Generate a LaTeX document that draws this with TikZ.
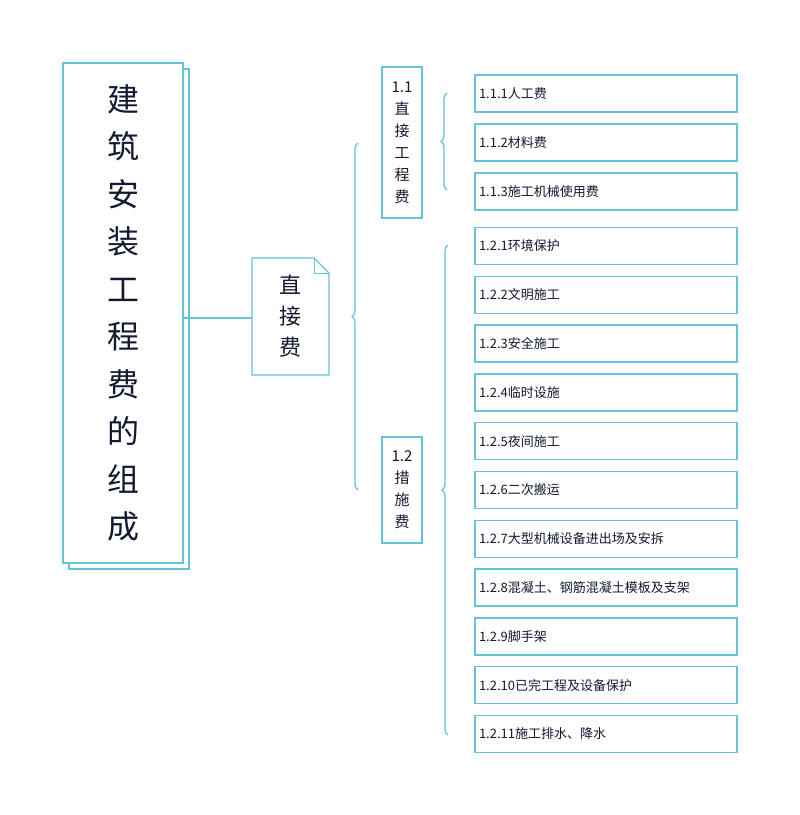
\documentclass[tikz,border=0pt]{standalone}
\usepackage{fontspec}
\setmainfont{Noto Sans CJK SC}
\usetikzlibrary{positioning,decorations.pathreplacing,shapes.misc}
\definecolor{lineblue}{RGB}{100,195,218}
\definecolor{inkblue}{RGB}{20,25,50}
\tikzset{
  box/.style={draw=lineblue, line width=1.3pt, fill=white, inner sep=0pt, text=inkblue},
  leaf/.style={box, minimum width=262pt, minimum height=37pt, text width=254pt, align=left, font=\fontsize{13}{15}\selectfont},
  sub/.style={box, minimum width=40pt, align=center, font=\fontsize{15}{22}\selectfont},
  bracebar/.style={draw=lineblue, line width=1.3pt, decorate, decoration={brace, amplitude=6pt}},
}
\begin{document}
\begin{tikzpicture}[x=1pt,y=-1pt]
\useasboundingbox (0,0) rectangle (800,815);
% root with shadow sheet
\draw[box] (69,69) rectangle (189,569);
\node[box, minimum width=120pt, minimum height=500pt, align=center,
  font=\fontsize{32}{47.5}\selectfont] (root) at (123,313)
  {建\\筑\\安\\装\\工\\程\\费\\的\\组\\成};
% document shaped node
\node[inner sep=0pt, minimum width=77pt, minimum height=117pt, align=center, text=inkblue,
  font=\fontsize{22}{31}\selectfont] (direct) at (290.5,316.5) {直\\接\\费};
\draw[draw=lineblue, line width=1.3pt] (252,258) -- (314,258) -- (329,273) -- (329,375) -- (252,375) -- cycle;
\draw[draw=lineblue, line width=1pt] (314,258) -- (314,273) -- (329,273);
\draw[draw=lineblue, line width=1.3pt] (root.east |- 0,318) -- (direct.west |- 0,318);
% second level
\node[sub, minimum height=151pt] (s1) at (402,142.5) {1.1\\直\\接\\工\\程\\费};
\node[sub, minimum height=106pt] (s2) at (402,490) {1.2\\措\\施\\费};
% leaves
\foreach \t [count=\k] in {1.1.1人工费, 1.1.2材料费, 1.1.3施工机械使用费}
  \node[leaf] (a\k) at (606,93.5+49*\k-49) {\t};
\foreach \t [count=\k] in {1.2.1环境保护, 1.2.2文明施工, 1.2.3安全施工, 1.2.4临时设施,
  1.2.5夜间施工, 1.2.6二次搬运, 1.2.7大型机械设备进出场及安拆,
  1.2.8混凝土、钢筋混凝土模板及支架, 1.2.9脚手架, 1.2.10已完工程及设备保护, 1.2.11施工排水、降水}
  \node[leaf] (b\k) at (606,246+48.8*\k-48.8) {\t};
% braces
\draw[bracebar] (358,490) -- (358,143);
\draw[bracebar] (447,190) -- (447,93);
\draw[bracebar] (448,735) -- (448,245);
\end{tikzpicture}
\end{document}
